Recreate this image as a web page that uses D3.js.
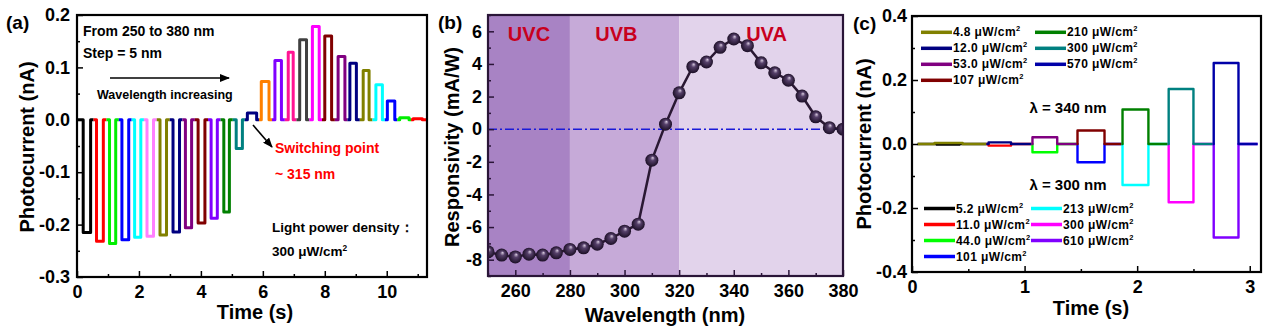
<!DOCTYPE html>
<html>
<head>
<meta charset="utf-8">
<script src="https://d3js.org/d3.v7.min.js"></script>
<style>
body { margin: 0; background: #fff; }
text { font-family: "Liberation Sans", Arial, sans-serif; font-weight: bold; }
</style>
</head>
<body>
<svg id="fig" width="1268" height="336"></svg>
<script>
// ---------- (a) wavelength scan, one pulse per wavelength ----------
var scanWavelength = [250,255,260,265,270,275,280,285,290,295,300,305,310,315,320,325,330,335,340,345,350,355,360,365,370,375,380];
var scanColor = ["#000000","#ff0000","#00ee00","#0000ff","#00ffff","#ff80ff","#808000","#000080","#800080","#800000","#8000ff","#008000","#008080",
                 "#000080",
                 "#ff8000","#8000ff","#ff1493","#404040","#ff00ff","#800000","#800080","#000080","#808000","#00ffff","#0000ff","#00ee00","#ff0000"];
var scanOn  = [0.20,0.63,1.05,1.45,1.86,2.26,2.68,3.10,3.50,3.91,4.33,4.74,5.14,5.50,5.95,6.39,6.82,7.19,7.60,8.00,8.43,8.81,9.24,9.65,10.02,10.42,10.85];
var scanOff = [0.44,0.85,1.25,1.67,2.06,2.47,2.89,3.31,3.70,4.13,4.53,4.92,5.34,5.80,6.20,6.60,6.98,7.41,7.82,8.22,8.65,9.02,9.43,9.86,10.26,10.72,11.15];
var scanLevel = [-0.215,-0.232,-0.236,-0.229,-0.224,-0.222,-0.220,-0.214,-0.206,-0.197,-0.188,-0.176,-0.055,
                 0.013,
                 0.073,0.113,0.129,0.153,0.178,0.160,0.121,0.108,0.094,0.067,0.036,0.004,0.002];
var aXTicks = [0,2,4,6,8,10];
var aYTicks = [-0.3,-0.2,-0.1,0.0,0.1,0.2];

// ---------- (b) responsivity ----------
var respWavelength = [250,255,260,265,270,275,280,285,290,295,300,305,310,315,320,325,330,335,340,345,350,355,360,365,370,375,380];
var respValue = [-7.52,-7.72,-7.83,-7.66,-7.72,-7.58,-7.37,-7.27,-7.05,-6.70,-6.25,-5.82,-1.90,0.31,2.23,3.83,4.12,5.02,5.53,5.12,4.07,3.46,3.00,2.03,0.76,0.09,0.00];
var bandNames = ["UVC","UVB","UVA"];
var bandFrom = [250,280,320];
var bandTo = [280,320,380];
var bandLabelAt = [265,297,352];
var bandColor = ["#a883c4","#c6aad8","#e2d3eb"];
var bXTicks = [260,280,300,320,340,360,380];
var bYTicks = [-8,-6,-4,-2,0,2,4,6];

// ---------- (c) power dependence ----------
var winStart = [0.05,0.66,1.06,1.46,1.86,2.27,2.67];
var winEnd   = [0.66,1.06,1.46,1.86,2.27,2.67,3.07];
var uvaPower = ["4.8","12.0","53.0","107","210","300","570"];
var uvaColor = ["#808000","#000080","#800080","#800000","#008000","#008080","#0000a8"];
var uvaOn    = [0.20,0.68,1.07,1.47,1.87,2.28,2.68];
var uvaOff   = [0.45,0.88,1.29,1.71,2.10,2.50,2.90];
var uvaLevel = [0.003,0.005,0.021,0.042,0.108,0.172,0.253];
var uvbPower = ["5.2","11.0","44.0","101","213","300","610"];
var uvbColor = ["#000000","#ff0000","#00ff00","#0000ff","#00ffff","#ff00ff","#8000ff"];
var uvbOn    = [0.22,0.68,1.07,1.47,1.87,2.28,2.68];
var uvbOff   = [0.42,0.88,1.29,1.71,2.10,2.50,2.90];
var uvbLevel = [-0.002,-0.005,-0.026,-0.057,-0.128,-0.182,-0.292];
var cXTicks = [0,1,2,3];
var cYTicks = [-0.4,-0.2,0.0,0.2,0.4];

var svg = d3.select("#fig");
var defs = svg.append("defs");
defs.append("marker").attr("id", "head")
    .attr("viewBox", "0 0 10 8").attr("refX", 9).attr("refY", 4)
    .attr("markerWidth", 10).attr("markerHeight", 8).attr("markerUnits", "userSpaceOnUse")
    .attr("orient", "auto")
  .append("path").attr("d", "M0,0 L10,4 L0,8 z").attr("fill", "#000");
var ball = defs.append("radialGradient").attr("id", "ball")
    .attr("cx", "50%").attr("cy", "50%").attr("r", "50%").attr("fx", "58%").attr("fy", "30%");
ball.append("stop").attr("offset", "0%").attr("stop-color", "#d9cce0");
ball.append("stop").attr("offset", "35%").attr("stop-color", "#56406a");
ball.append("stop").attr("offset", "100%").attr("stop-color", "#1c0f26");

function pulse(start, on, off, end, level) {
  return [[start,0],[on,0],[on,level],[off,level],[off,0],[end,0]];
}

// axes, minor ticks and frame for one panel
function frame(g, x, y, xt, yt, xMinor, yMinor, xFmt, yFmt, col, yPad) {
  var w = x.range()[1], h = y.range()[0];
  g.append("g").attr("transform", "translate(0," + h + ")")
    .call(d3.axisBottom(x).tickValues(xMinor).tickSize(-3).tickFormat(""));
  g.append("g").call(d3.axisLeft(y).tickValues(yMinor).tickSize(-3).tickFormat(""));
  g.append("g").attr("class", "xax").attr("transform", "translate(0," + h + ")")
    .call(d3.axisBottom(x).tickValues(xt).tickSize(-6).tickPadding(8).tickFormat(xFmt));
  g.append("g").attr("class", "yax")
    .call(d3.axisLeft(y).tickValues(yt).tickSize(-6).tickPadding(yPad).tickFormat(yFmt));
  g.selectAll(".domain").remove();
  g.selectAll(".tick line").attr("stroke", col).attr("stroke-width", 1.5);
  g.selectAll(".tick text").attr("fill", "#000").style("font-size", "18px");
  g.append("rect").attr("width", w).attr("height", h)
    .attr("fill", "none").attr("stroke", col).attr("stroke-width", 2.2);
}

function ytitle(cx, cy, s) {
  svg.append("text").attr("transform", "translate(" + cx + "," + cy + ") rotate(-90)")
    .attr("text-anchor", "middle").attr("dy", "0.35em").style("font-size", "20px").text(s);
}
function xtitle(cx, y, s) {
  svg.append("text").attr("x", cx).attr("y", y).attr("text-anchor", "middle")
    .style("font-size", "20px").text(s);
}
function unitText(sel, value) {
  sel.append("tspan").text(value + " \u03bcW/cm");
  sel.append("tspan").attr("dy", -5).style("font-size", "0.62em").text("2");
}

// ================= panel (a) =================
var aLeft = 77, aTop = 15, aW = 350, aH = 262;
var ga = svg.append("g").attr("transform", "translate(" + aLeft + "," + aTop + ")");
var xa = d3.scaleLinear().domain([0, 11.3]).range([0, aW]);
var ya = d3.scaleLinear().domain([-0.3, 0.2]).range([aH, 0]);
var lineA = d3.line().x(function(d) { return xa(d[0]); }).y(function(d) { return ya(d[1]); });

scanWavelength.forEach(function(wl, i) {
  var n = scanWavelength.length;
  var s = i === 0 ? 0 : (scanOff[i-1] + scanOn[i]) / 2;
  var e = i === n - 1 ? 11.3 : (scanOff[i] + scanOn[i+1]) / 2;
  ga.append("path")
    .attr("d", lineA(pulse(s, scanOn[i], scanOff[i], e, scanLevel[i])))
    .attr("fill", "none").attr("stroke", scanColor[i]).attr("stroke-width", 3)
    .attr("stroke-linejoin", "round");
});
frame(ga, xa, ya, aXTicks, aYTicks, [1,3,5,7,9,11], [-0.25,-0.15,-0.05,0.05,0.15],
      function(d) { return d; }, function(d) { return d.toFixed(1); }, "#000", 7);

svg.append("text").attr("x", 6).attr("y", 29).style("font-size", "19px").text("(a)");
ytitle(27, 147, "Photocurrent (nA)");
xtitle(255, 319, "Time (s)");
svg.append("text").attr("x", 83).attr("y", 36).style("font-size", "14px").text("From 250 to 380 nm");
svg.append("text").attr("x", 83).attr("y", 58).style("font-size", "14px").text("Step = 5 nm");
svg.append("line").attr("x1", 110).attr("y1", 78).attr("x2", 229).attr("y2", 78)
  .attr("stroke", "#000").attr("stroke-width", 1.6).attr("marker-end", "url(#head)");
svg.append("text").attr("x", 97).attr("y", 99).style("font-size", "12.5px").text("Wavelength increasing");
svg.append("line").attr("x1", 253).attr("y1", 125).attr("x2", 272).attr("y2", 147)
  .attr("stroke", "#000").attr("stroke-width", 1.6).attr("marker-end", "url(#head)");
svg.append("text").attr("x", 275).attr("y", 153).attr("fill", "#f00").style("font-size", "14px").text("Switching point");
svg.append("text").attr("x", 275).attr("y", 179).attr("fill", "#f00").style("font-size", "14px").text("~ 315 nm");
svg.append("text").attr("x", 272).attr("y", 232).style("font-size", "13.5px").text("Light power density\uff1a");
unitText(svg.append("text").attr("x", 272).attr("y", 256).style("font-size", "13.5px"), "300");

// ================= panel (b) =================
var bLeft = 488, bTop = 15, bW = 355, bH = 261;
var gb = svg.append("g").attr("transform", "translate(" + bLeft + "," + bTop + ")");
var xb = d3.scaleLinear().domain([250, 380]).range([0, bW]);
var yb = d3.scaleLinear().domain([-9, 7]).range([bH, 0]);

gb.selectAll(".band").data(bandNames).enter().append("rect")
  .attr("x", function(d, i) { return xb(bandFrom[i]); })
  .attr("width", function(d, i) { return xb(bandTo[i]) - xb(bandFrom[i]); })
  .attr("y", 0).attr("height", bH)
  .attr("fill", function(d, i) { return bandColor[i]; });

gb.append("line").attr("x1", 0).attr("x2", bW).attr("y1", yb(0)).attr("y2", yb(0))
  .attr("stroke", "#1a1ad8").attr("stroke-width", 1.6).attr("stroke-dasharray", "9,3,2,3");

gb.append("clipPath").attr("id", "bclip").append("rect").attr("width", bW).attr("height", bH);
var plotB = gb.append("g").attr("clip-path", "url(#bclip)");
var lineB = d3.line().x(function(d, i) { return xb(respWavelength[i]); }).y(function(d) { return yb(d); });
plotB.append("path").attr("d", lineB(respValue))
  .attr("fill", "none").attr("stroke", "#2a1833").attr("stroke-width", 2.5);
plotB.selectAll("circle").data(respValue).enter().append("circle")
  .attr("cx", function(d, i) { return xb(respWavelength[i]); })
  .attr("cy", function(d) { return yb(d); })
  .attr("r", 6.5).attr("fill", "url(#ball)");

gb.selectAll(".bandlab").data(bandNames).enter().append("text")
  .attr("x", function(d, i) { return xb(bandLabelAt[i]); })
  .attr("y", 26).attr("text-anchor", "middle").attr("fill", "#c8001e")
  .style("font-size", "20px").text(function(d) { return d; });

frame(gb, xb, yb, bXTicks, bYTicks, [250,270,290,310,330,350,370], [-9,-7,-5,-3,-1,1,3,5,7],
      function(d) { return d; }, function(d) { return d; }, "#2a1538", 6);

svg.append("text").attr("x", 438).attr("y", 29).style("font-size", "19px").text("(b)");
ytitle(452, 147, "Responsivity (mA/W)");
xtitle(665, 322, "Wavelength (nm)");

// ================= panel (c) =================
var cLeft = 912, cTop = 16, cW = 349, cH = 256;
var gc = svg.append("g").attr("transform", "translate(" + cLeft + "," + cTop + ")");
var xc = d3.scaleLinear().domain([0, 3.1]).range([0, cW]);
var yc = d3.scaleLinear().domain([-0.4, 0.4]).range([cH, 0]);
var lineC = d3.line().x(function(d) { return xc(d[0]); }).y(function(d) { return yc(d[1]); });

uvbPower.forEach(function(p, i) {
  gc.append("path").attr("d", lineC(pulse(winStart[i], uvbOn[i], uvbOff[i], winEnd[i], uvbLevel[i])))
    .attr("fill", "none").attr("stroke", uvbColor[i]).attr("stroke-width", 2.4).attr("stroke-linejoin", "round");
});
uvaPower.forEach(function(p, i) {
  gc.append("path").attr("d", lineC(pulse(winStart[i], uvaOn[i], uvaOff[i], winEnd[i], uvaLevel[i])))
    .attr("fill", "none").attr("stroke", uvaColor[i]).attr("stroke-width", 2.4).attr("stroke-linejoin", "round");
});
frame(gc, xc, yc, cXTicks, cYTicks, [0.5,1.5,2.5], [-0.3,-0.1,0.1,0.3],
      function(d) { return d; }, function(d) { return d.toFixed(1); }, "#000", 5);

// legends
function legend(names, colors, y0, rowH, colX, lineW) {
  names.forEach(function(p, i) {
    var col = i < 4 ? 0 : 1, row = i < 4 ? i : i - 4;
    var lx = colX[col], ly = y0 + row * rowH;
    svg.append("line").attr("x1", lx).attr("x2", lx + lineW).attr("y1", ly).attr("y2", ly)
      .attr("stroke", colors[i]).attr("stroke-width", 3.5);
    var t = svg.append("text").attr("x", lx + lineW + 1).attr("y", ly + 4)
      .style("font-size", "12px").style("letter-spacing", "0.4px");
    unitText(t, p);
  });
}
legend(uvaPower, uvaColor, 32.3, 16, [921, 1035], 31);
legend(uvbPower, uvbColor, 208.5, 16, [924, 1031], 31);

svg.append("text").attr("x", 1068).attr("y", 113).attr("text-anchor", "middle").style("font-size", "15px").text("\u03bb = 340 nm");
svg.append("text").attr("x", 1068).attr("y", 190).attr("text-anchor", "middle").style("font-size", "15px").text("\u03bb = 300 nm");

svg.append("text").attr("x", 853).attr("y", 30).style("font-size", "19px").text("(c)");
ytitle(864, 144, "Photocurrent (nA)");
xtitle(1091, 315, "Time (s)");
</script>
</body>
</html>
